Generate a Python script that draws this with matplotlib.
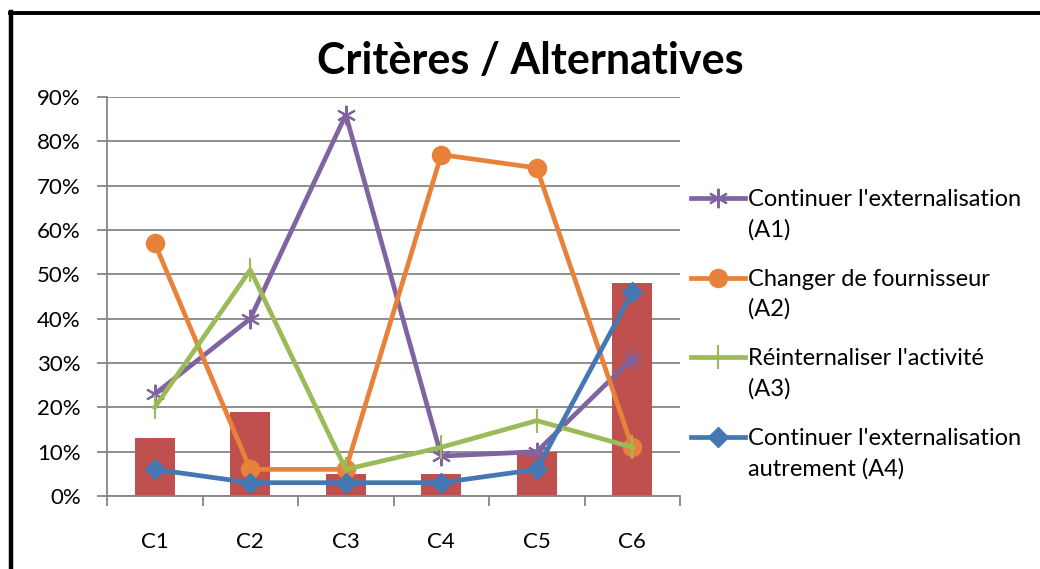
import matplotlib.pyplot as plt
from matplotlib.lines import Line2D
from matplotlib.ticker import PercentFormatter

plt.rcParams['font.family'] = ['Lato', 'DejaVu Sans']

criteres = ['C1', 'C2', 'C3', 'C4', 'C5', 'C6']
poids = [13, 19, 5, 5, 10, 48]
a1 = [23, 40, 86, 9, 10, 31]
a2 = [57, 6, 6, 77, 74, 11]
a3 = [20, 51, 6, 11, 17, 11]
a4 = [6, 3, 3, 3, 6, 46]

labels = ["Continuer l'externalisation\n(A1)",
          "Changer de fournisseur\n(A2)",
          "Réinternaliser l'activité\n(A3)",
          "Continuer l'externalisation\nautrement (A4)"]

fig = plt.figure(figsize=(10.4, 5.69), dpi=100)
ax = fig.add_axes([0.1029, 0.1283, 0.5510, 0.7012])

x = range(len(criteres))
ax.bar(x, poids, width=0.42, color='#C0504D', zorder=2)

lw = 3.4
l1, = ax.plot(x, a1, color='#8064A2', lw=lw, marker=(6, 2, 0), ms=14, mew=1.5, zorder=3)
l2, = ax.plot(x, a2, color='#E8823A', lw=lw, marker='o', ms=13, zorder=4)
l3, = ax.plot(x, a3, color='#9BBB59', lw=lw, marker='|', ms=17, mew=1.5, zorder=5)
l4, = ax.plot(x, a4, color='#4577B3', lw=lw, marker='D', ms=10, zorder=6)

ax.set_xlim(-0.5, 5.5)
ax.set_ylim(0, 90)
ax.set_yticks(range(0, 91, 10))
ax.yaxis.set_major_formatter(PercentFormatter(decimals=0))
ax.set_xticks(x)
ax.set_xticklabels(criteres)
ax.set_xticks([i - 0.5 for i in range(7)], minor=True)
ax.tick_params(axis='x', which='major', length=0, pad=26, labelsize=16)
ax.tick_params(axis='x', which='minor', length=7, color='#868686', width=1.3)
ax.tick_params(axis='y', length=7, color='#868686', width=1.3, labelsize=16, pad=12)
ax.grid(axis='y', color='#868686', lw=1.3, zorder=0)
for s in ['top', 'right']:
    ax.spines[s].set_visible(False)
for s in ['left', 'bottom']:
    ax.spines[s].set_color('#868686')
    ax.spines[s].set_linewidth(1.3)

fig.text(0.5096, 0.892, 'Critères / Alternatives', ha='center', va='center',
         fontsize=31, fontweight='bold')

leg = fig.legend([l1, l2, l3, l4], labels, loc='upper left',
                 bbox_to_anchor=(0.655, 0.714), frameon=False, fontsize=17,
                 handlelength=2.3, handletextpad=0.12, labelspacing=1.2,
                 borderaxespad=0)
# descendre chaque libellé pour que le symbole soit sur la première ligne
for t in leg.get_texts():
    t.set_linespacing(1.5)
    t.set_position((0, -17))

# cadre noir (haut et gauche)
fig.add_artist(Line2D([11 / 1040, 11 / 1040], [0, 1 - 12 / 569], color='black',
                      lw=3.2, transform=fig.transFigure))
fig.add_artist(Line2D([9.5 / 1040, 1], [1 - 12.5 / 569, 1 - 12.5 / 569], color='black',
                      lw=2.8, transform=fig.transFigure))

fig.savefig('out.png', dpi=100)
